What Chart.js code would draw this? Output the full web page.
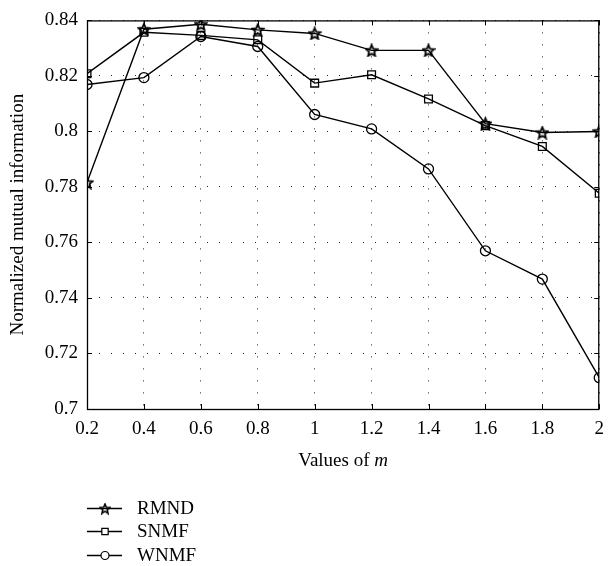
<!DOCTYPE html>
<html>
<head>
<meta charset="utf-8">
<script src="https://cdn.jsdelivr.net/npm/chart.js@4"></script>
<style>
  html, body { margin: 0; padding: 0; background: #fff; }
  canvas { display: block; }
</style>
</head>
<body>
<canvas id="nmi-chart" width="613" height="566"></canvas>
<script>
const mValues = [0.2, 0.4, 0.6, 0.8, 1.0, 1.2, 1.4, 1.6, 1.8, 2.0];
const rmnd = [0.7816, 0.8368, 0.8386, 0.8366, 0.8353, 0.8292, 0.8292, 0.8028, 0.7996, 0.8000];
const snmf = [0.8208, 0.8357, 0.8346, 0.8330, 0.8174, 0.8204, 0.8117, 0.8021, 0.7946, 0.7777];
const wnmf = [0.8169, 0.8194, 0.8342, 0.8306, 0.8061, 0.8009, 0.7865, 0.7570, 0.7468, 0.7113];
const seriesNames = ['RMND', 'SNMF', 'WNMF'];
const xTicks = [0.2, 0.4, 0.6, 0.8, 1.0, 1.2, 1.4, 1.6, 1.8, 2.0];
const xTickLabels = ['0.2', '0.4', '0.6', '0.8', '1', '1.2', '1.4', '1.6', '1.8', '2'];
const yTicks = [0.70, 0.72, 0.74, 0.76, 0.78, 0.80, 0.82, 0.84];
const yTickLabels = ['0.7', '0.72', '0.74', '0.76', '0.78', '0.8', '0.82', '0.84'];

const FONT = '"Liberation Serif", "DejaVu Serif", serif';

// outlined five-point star as a point image
function makeStar(size, lw) {
  const c = document.createElement('canvas');
  c.width = size; c.height = size;
  const g = c.getContext('2d');
  const m = size / 2;
  const R = m - 1, r = R * 0.45;
  g.strokeStyle = '#000';
  g.lineWidth = lw;
  g.lineJoin = 'miter';
  g.beginPath();
  for (let i = 0; i < 10; i++) {
    const rad = i % 2 === 0 ? R : r;
    const a = -Math.PI / 2 + i * Math.PI / 5;
    const px = m + rad * Math.cos(a), py = m + rad * Math.sin(a) + 0.6;
    if (i === 0) g.moveTo(px, py); else g.lineTo(px, py);
  }
  g.closePath();
  g.stroke();
  return c;
}

const starBig = makeStar(14, 1.8);
const starSmall = makeStar(12, 1.6);
const pointStyles = [starBig, 'rect', 'circle'];
const pointSizes = [7, 5.5, 5];

function toPoints(arr) {
  return mValues.map((x, i) => ({ x: x, y: arr[i] }));
}

const decorations = {
  id: 'decorations',
  afterDraw(chart) {
    const ctx = chart.ctx;
    const a = chart.chartArea;
    const xs = chart.scales.x, ys = chart.scales.y;
    ctx.save();
    ctx.strokeStyle = '#000';
    ctx.lineWidth = 1.3;
    // frame
    ctx.strokeRect(a.left + 0.5, a.top + 0.5, a.right - a.left - 1, a.bottom - a.top);
    // inward ticks
    ctx.lineWidth = 1;
    ctx.beginPath();
    xTicks.forEach(v => {
      const px = Math.round(xs.getPixelForValue(v)) + 0.5;
      ctx.moveTo(px, a.bottom); ctx.lineTo(px, a.bottom - 5);
      ctx.moveTo(px, a.top); ctx.lineTo(px, a.top + 5);
    });
    yTicks.forEach(v => {
      const py = Math.round(ys.getPixelForValue(v)) + 0.5;
      ctx.moveTo(a.left, py); ctx.lineTo(a.left + 5, py);
      ctx.moveTo(a.right, py); ctx.lineTo(a.right - 5, py);
    });
    ctx.stroke();

    // x title with italic m
    ctx.fillStyle = '#000';
    ctx.textBaseline = 'middle';
    const cx = (a.left + a.right) / 2;
    ctx.font = '19px ' + FONT;
    const w1 = ctx.measureText('Values of ').width;
    ctx.font = 'italic 19px ' + FONT;
    const w2 = ctx.measureText('m').width;
    const tx = cx - (w1 + w2) / 2;
    ctx.font = '19px ' + FONT;
    ctx.textAlign = 'left';
    ctx.fillText('Values of ', tx, 461);
    ctx.font = 'italic 19px ' + FONT;
    ctx.fillText('m', tx + w1, 461);

    // y title
    ctx.save();
    ctx.translate(18, (a.top + a.bottom) / 2);
    ctx.rotate(-Math.PI / 2);
    ctx.textAlign = 'center';
    ctx.font = '19px ' + FONT;
    ctx.fillText('Normalized mutual information', 0, 0);
    ctx.restore();

    // legend
    const rows = [508, 531, 555];
    ctx.font = '19px ' + FONT;
    ctx.textAlign = 'left';
    seriesNames.forEach((name, i) => {
      const y = rows[i];
      ctx.lineWidth = 1.3;
      ctx.strokeStyle = '#000';
      ctx.beginPath();
      ctx.moveTo(87, y + 0.5); ctx.lineTo(122, y + 0.5);
      ctx.stroke();
      if (i === 0) {
        ctx.drawImage(starSmall, 105 - 6, y + 0.5 - 6);
      } else {
        ctx.save();
        ctx.fillStyle = '#fff';
        ctx.lineWidth = 1.2;
        Chart.helpers.drawPoint(ctx, {
          pointStyle: pointStyles[i], radius: pointSizes[i] - 1, borderWidth: 1.2, rotation: 0
        }, 105, y + 0.5);
        ctx.restore();
      }
      ctx.fillStyle = '#000';
      ctx.fillText(name, 137, y + 1);
    });
    ctx.restore();
  }
};

const datasets = [rmnd, snmf, wnmf].map((arr, i) => ({
  label: seriesNames[i],
  data: toPoints(arr),
  borderColor: '#000',
  borderWidth: 1.4,
  backgroundColor: 'rgba(0,0,0,0)',
  pointBorderColor: '#000',
  pointBackgroundColor: 'rgba(0,0,0,0)',
  pointBorderWidth: 1.3,
  pointStyle: pointStyles[i],
  pointRadius: pointSizes[i],
  tension: 0
}));

new Chart(document.getElementById('nmi-chart').getContext('2d'), {
  type: 'line',
  data: { datasets: datasets },
  options: {
    responsive: false,
    animation: false,
    layout: { padding: { top: 20, right: 5, left: 0, bottom: 0 } },
    plugins: { legend: { display: false }, tooltip: { enabled: false } },
    scales: {
      x: {
        type: 'linear',
        min: 0.2,
        max: 2.0,
        afterBuildTicks: scale => { scale.ticks = xTicks.map(v => ({ value: v })); },
        afterFit: scale => { scale.height = 157; },
        grid: { color: '#222', lineWidth: 1, drawTicks: false },
        border: { display: false, dash: [1, 11] },
        ticks: {
          padding: 9,
          color: '#000',
          font: { family: FONT, size: 19 },
          maxRotation: 0,
          callback: (v, i) => xTickLabels[i]
        }
      },
      y: {
        min: 0.7,
        max: 0.84,
        afterBuildTicks: scale => { scale.ticks = yTicks.map(v => ({ value: v })); },
        afterFit: scale => { scale.width = 87; },
        grid: { color: '#222', lineWidth: 1, drawTicks: false },
        border: { display: false, dash: [1, 11] },
        ticks: {
          padding: 9,
          color: '#000',
          font: { family: FONT, size: 19 },
          callback: (v, i) => yTickLabels[i]
        }
      }
    }
  },
  plugins: [decorations]
});
</script>
</body>
</html>
